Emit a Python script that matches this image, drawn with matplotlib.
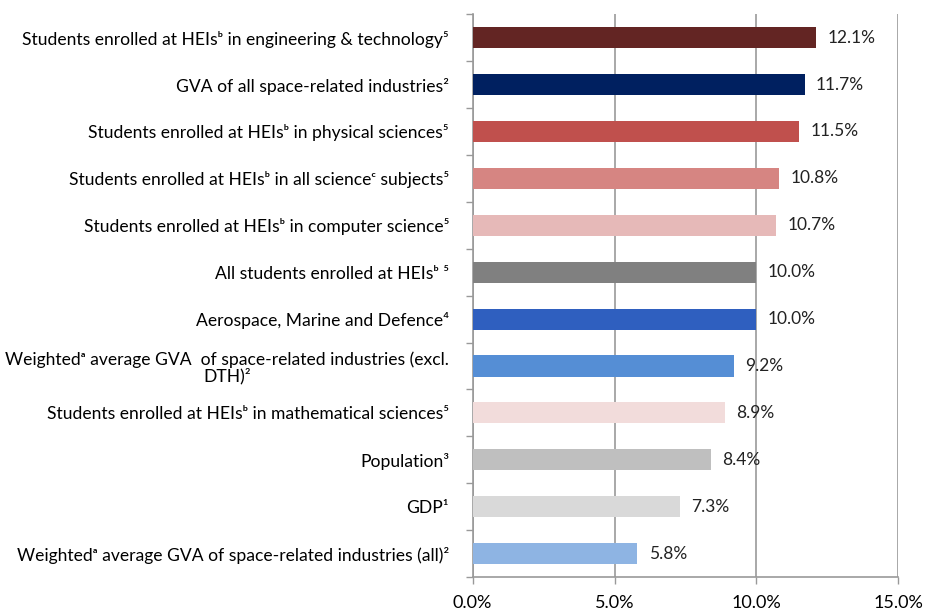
import numpy as np
import matplotlib.pyplot as plt
from matplotlib.ticker import FuncFormatter, FixedLocator

plt.rcParams['font.family'] = ['Lato', 'DejaVu Sans']

labels = [
    "Students enrolled at HEIsᵇ in engineering & technology⁵",
    "GVA of all space-related industries²",
    "Students enrolled at HEIsᵇ in physical sciences⁵",
    "Students enrolled at HEIsᵇ in all scienceᶜ subjects⁵",
    "Students enrolled at HEIsᵇ in computer science⁵",
    "All students enrolled at HEIsᵇ ⁵",
    "Aerospace, Marine and Defence⁴",
    "Weightedᵃ average GVA  of space-related industries (excl.\nDTH)²",
    "Students enrolled at HEIsᵇ in mathematical sciences⁵",
    "Population³",
    "GDP¹",
    "Weightedᵃ average GVA of space-related industries (all)²",
]
values = [12.1, 11.7, 11.5, 10.8, 10.7, 10.0, 10.0, 9.2, 8.9, 8.4, 7.3, 5.8]
colors = ['#632523', '#002060', '#C0504D', '#D68582', '#E6B9B8', '#808080',
          '#2F5FBF', '#558ED5', '#F2DCDB', '#BFBFBF', '#D9D9D9', '#8EB4E3']

fig = plt.figure(figsize=(9.25, 6.14), dpi=100)
ax = fig.add_axes([0.511, 0.060, 0.460, 0.917])

y = np.arange(len(values))
ax.barh(y, values, height=0.45, color=colors, zorder=3)
ax.set_ylim(len(values) - 0.5, -0.5)
ax.set_xlim(0, 15)

for yi, v in zip(y, values):
    ax.text(v + 0.4, yi, f"{v:.1f}%", va='center', ha='left', fontsize=12.5, color='#222222')

ax.set_xticks([0, 5, 10, 15])
ax.xaxis.set_major_formatter(FuncFormatter(lambda x, p: f"{x:.1f}%"))
ax.grid(axis='x', color='#999999', linewidth=1.2, zorder=0)

ax.set_yticks(y)
ax.set_yticklabels(labels, fontsize=12.6, multialignment='center', linespacing=1.05)
ax.tick_params(axis='y', length=0, pad=17)
ax.yaxis.set_minor_locator(FixedLocator(np.arange(-0.5, len(values), 1)))
ax.tick_params(axis='y', which='minor', length=5, color='#999999', width=1)
ax.tick_params(axis='x', length=5, color='#999999', width=1, labelsize=13, pad=8)

for s in ['top', 'right']:
    ax.spines[s].set_visible(False)
for s in ['left', 'bottom']:
    ax.spines[s].set_color('#999999')
    ax.spines[s].set_linewidth(1.2)

fig.savefig('out.png', dpi=100)
